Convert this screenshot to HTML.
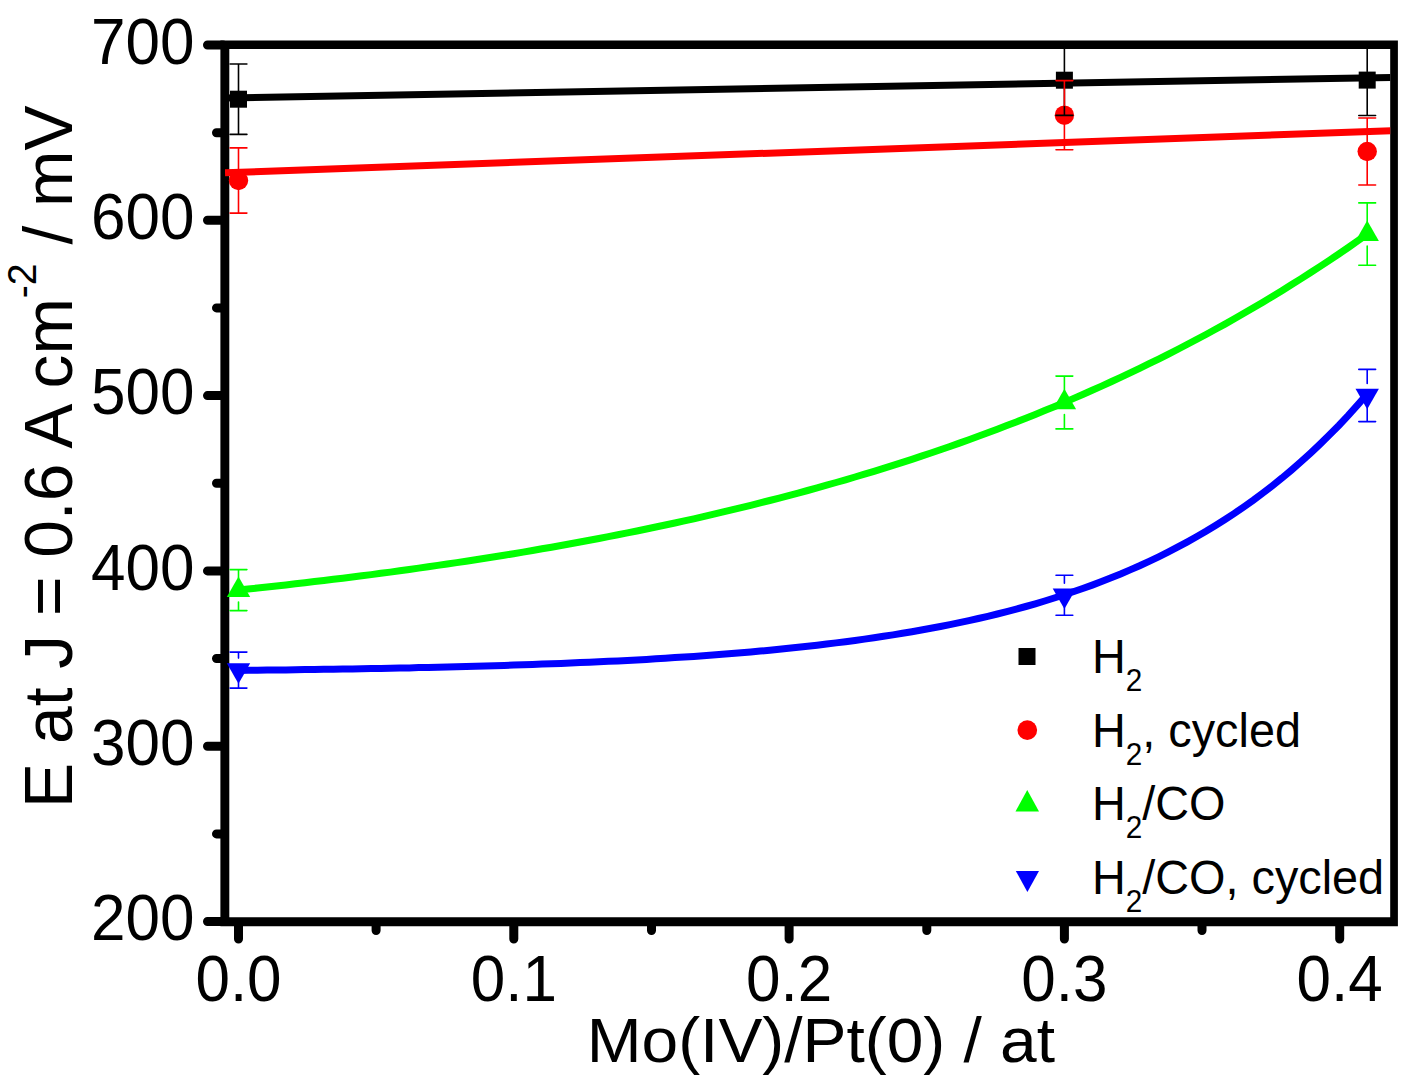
<!DOCTYPE html>
<html><head><meta charset="utf-8"><style>
html,body{margin:0;padding:0;background:#fff;width:1423px;height:1091px;overflow:hidden}
svg{display:block}
text{font-family:"Liberation Sans",sans-serif}
</style></head><body>
<svg width="1423" height="1091" viewBox="0 0 1423 1091">
<rect width="1423" height="1091" fill="#fff"/>
<defs><clipPath id="c"><rect x="225" y="45" width="1165.2" height="876.5"/></clipPath></defs>
<path d="M223,45.0H207.5M223,220.3H207.5M223,395.6H207.5M223,570.9H207.5M223,746.2H207.5M223,921.5H207.5M223,132.7H216.5M223,307.9H216.5M223,483.2H216.5M223,658.5H216.5M223,833.9H216.5M238.5,923.5V939M513.8,923.5V939M789.1,923.5V939M1064.4,923.5V939M1339.7,923.5V939M376.1,923.5V930.5M651.5,923.5V930.5M926.8,923.5V930.5M1202.0,923.5V930.5" stroke="#000" stroke-width="9" stroke-linecap="round" fill="none"/>
<path d="M220.4,40.4H1397.9V926.2H220.4Z M229.3,49.1V917.2H1390.2V49.1Z" fill="#000" fill-rule="evenodd"/>
<g clip-path="url(#c)">
<line x1="225" y1="98.0" x2="1394" y2="77.4" stroke="#000" stroke-width="7"/>
<line x1="225" y1="172.8" x2="1394" y2="130.6" stroke="#f00" stroke-width="7"/>
<polyline points="238.5,590.0 248.0,589.0 257.5,588.0 267.0,586.9 276.4,585.9 285.9,584.9 295.4,583.8 304.9,582.7 314.4,581.6 323.9,580.5 333.4,579.3 342.8,578.2 352.3,577.0 361.8,575.8 371.3,574.6 380.8,573.3 390.3,572.1 399.7,570.8 409.2,569.5 418.7,568.1 428.2,566.8 437.7,565.4 447.2,564.0 456.7,562.6 466.1,561.2 475.6,559.7 485.1,558.3 494.6,556.8 504.1,555.2 513.6,553.7 523.1,552.1 532.5,550.5 542.0,548.8 551.5,547.2 561.0,545.5 570.5,543.8 580.0,542.0 589.4,540.3 598.9,538.5 608.4,536.6 617.9,534.8 627.4,532.9 636.9,531.0 646.4,529.0 655.8,527.0 665.3,525.0 674.8,523.0 684.3,520.9 693.8,518.8 703.3,516.6 712.8,514.4 722.2,512.2 731.7,509.9 741.2,507.6 750.7,505.3 760.2,502.9 769.7,500.5 779.2,498.1 788.6,495.6 798.1,493.1 807.6,490.5 817.1,487.9 826.6,485.2 836.1,482.5 845.5,479.8 855.0,477.0 864.5,474.2 874.0,471.3 883.5,468.3 893.0,465.4 902.5,462.3 911.9,459.3 921.4,456.1 930.9,453.0 940.4,449.7 949.9,446.5 959.4,443.1 968.9,439.7 978.3,436.3 987.8,432.8 997.3,429.2 1006.8,425.6 1016.3,422.0 1025.8,418.2 1035.3,414.4 1044.7,410.6 1054.2,406.7 1063.7,402.7 1073.2,398.6 1082.7,394.5 1092.2,390.3 1101.6,386.1 1111.1,381.7 1120.6,377.4 1130.1,372.9 1139.6,368.4 1149.1,363.7 1158.6,359.1 1168.0,354.3 1177.5,349.5 1187.0,344.5 1196.5,339.5 1206.0,334.5 1215.5,329.3 1225.0,324.1 1234.4,318.7 1243.9,313.3 1253.4,307.8 1262.9,302.2 1272.4,296.5 1281.9,290.7 1291.3,284.8 1300.8,278.9 1310.3,272.8 1319.8,266.6 1329.3,260.3 1338.8,254.0 1348.3,247.5 1357.7,240.9 1367.2,234.2" stroke="#0f0" stroke-width="7" fill="none"/>
<polyline points="238.5,670.4 248.0,670.3 257.5,670.2 267.0,670.1 276.4,670.0 285.9,669.9 295.4,669.7 304.9,669.6 314.4,669.5 323.9,669.3 333.4,669.2 342.8,669.1 352.3,668.9 361.8,668.7 371.3,668.6 380.8,668.4 390.3,668.2 399.7,668.0 409.2,667.9 418.7,667.6 428.2,667.4 437.7,667.2 447.2,667.0 456.7,666.8 466.1,666.5 475.6,666.3 485.1,666.0 494.6,665.7 504.1,665.4 513.6,665.1 523.1,664.8 532.5,664.5 542.0,664.1 551.5,663.8 561.0,663.4 570.5,663.0 580.0,662.6 589.4,662.2 598.9,661.8 608.4,661.3 617.9,660.9 627.4,660.4 636.9,659.9 646.4,659.4 655.8,658.8 665.3,658.2 674.8,657.6 684.3,657.0 693.8,656.4 703.3,655.7 712.8,655.0 722.2,654.3 731.7,653.5 741.2,652.8 750.7,651.9 760.2,651.1 769.7,650.2 779.2,649.3 788.6,648.3 798.1,647.3 807.6,646.3 817.1,645.2 826.6,644.1 836.1,642.9 845.5,641.7 855.0,640.5 864.5,639.1 874.0,637.8 883.5,636.3 893.0,634.9 902.5,633.3 911.9,631.7 921.4,630.0 930.9,628.3 940.4,626.5 949.9,624.6 959.4,622.6 968.9,620.6 978.3,618.5 987.8,616.3 997.3,614.0 1006.8,611.6 1016.3,609.1 1025.8,606.5 1035.3,603.8 1044.7,601.0 1054.2,598.0 1063.7,595.0 1073.2,591.8 1082.7,588.5 1092.2,585.1 1101.6,581.5 1111.1,577.8 1120.6,574.0 1130.1,569.9 1139.6,565.8 1149.1,561.4 1158.6,556.9 1168.0,552.2 1177.5,547.2 1187.0,542.1 1196.5,536.8 1206.0,531.3 1215.5,525.5 1225.0,519.5 1234.4,513.3 1243.9,506.8 1253.4,500.1 1262.9,493.0 1272.4,485.7 1281.9,478.1 1291.3,470.2 1300.8,461.9 1310.3,453.3 1319.8,444.4 1329.3,435.1 1338.8,425.5 1348.3,415.4 1357.7,404.9 1367.2,394.0" stroke="#00f" stroke-width="7" fill="none"/>
<rect x="230.0" y="90.7" width="17" height="17" fill="#000"/>
<rect x="1055.9" y="71.7" width="17" height="17" fill="#000"/>
<rect x="1358.7" y="71.6" width="17" height="17" fill="#000"/>
<circle cx="238.5" cy="180.5" r="9.7" fill="#f00"/>
<circle cx="1064.4" cy="115.2" r="9.7" fill="#f00"/>
<circle cx="1367.2" cy="151.5" r="9.7" fill="#f00"/>
<path d="M238.5,576.4L250.2,596.9L226.8,596.9Z" fill="#0f0"/>
<path d="M1064.4,388.8L1076.1,409.3L1052.7,409.3Z" fill="#0f0"/>
<path d="M1367.2,220.4L1378.9,240.9L1355.5,240.9Z" fill="#0f0"/>
<path d="M238.5,683.8L250.2,663.3L226.8,663.3Z" fill="#00f"/>
<path d="M1064.4,608.9L1076.1,588.4L1052.7,588.4Z" fill="#00f"/>
<path d="M1367.2,409.2L1378.9,388.7L1355.5,388.7Z" fill="#00f"/>
<path d="M238.5,90.7V64.0M230.1,64.0H246.9M238.5,107.7V134.4M230.1,134.4H246.9" stroke="#000" stroke-width="1.6" stroke-linecap="round" fill="none"/>
<path d="M1064.4,71.7V45.0M1056.0,45.0H1072.8M1064.4,88.7V115.4M1056.0,115.4H1072.8" stroke="#000" stroke-width="1.6" stroke-linecap="round" fill="none"/>
<path d="M1367.2,71.6V44.7M1358.8,44.7H1375.6M1367.2,88.6V115.5M1358.8,115.5H1375.6" stroke="#000" stroke-width="1.6" stroke-linecap="round" fill="none"/>
<path d="M238.5,170.8V147.9M230.1,147.9H246.9M238.5,190.2V213.1M230.1,213.1H246.9" stroke="#f00" stroke-width="1.6" stroke-linecap="round" fill="none"/>
<path d="M1064.4,105.5V80.6M1056.0,80.6H1072.8M1064.4,124.9V149.8M1056.0,149.8H1072.8" stroke="#f00" stroke-width="1.6" stroke-linecap="round" fill="none"/>
<path d="M1367.2,141.8V118.0M1358.8,118.0H1375.6M1367.2,161.2V185.0M1358.8,185.0H1375.6" stroke="#f00" stroke-width="1.6" stroke-linecap="round" fill="none"/>
<path d="M238.5,578.1V569.6M230.1,569.6H246.9M238.5,602.1V610.6M230.1,610.6H246.9" stroke="#0f0" stroke-width="1.6" stroke-linecap="round" fill="none"/>
<path d="M1064.4,390.5V376.1M1056.0,376.1H1072.8M1064.4,414.5V428.9M1056.0,428.9H1072.8" stroke="#0f0" stroke-width="1.6" stroke-linecap="round" fill="none"/>
<path d="M1367.2,222.1V202.9M1358.8,202.9H1375.6M1367.2,246.1V265.3M1358.8,265.3H1375.6" stroke="#0f0" stroke-width="1.6" stroke-linecap="round" fill="none"/>
<path d="M238.5,658.1V652.1M230.1,652.1H246.9M238.5,682.1V688.1M230.1,688.1H246.9" stroke="#00f" stroke-width="1.6" stroke-linecap="round" fill="none"/>
<path d="M1064.4,583.2V575.2M1056.0,575.2H1072.8M1064.4,607.2V615.2M1056.0,615.2H1072.8" stroke="#00f" stroke-width="1.6" stroke-linecap="round" fill="none"/>
<path d="M1367.2,383.5V369.4M1358.8,369.4H1375.6M1367.2,407.5V421.6M1358.8,421.6H1375.6" stroke="#00f" stroke-width="1.6" stroke-linecap="round" fill="none"/>
</g>
<g font-family="Liberation Sans" font-size="62" fill="#000">
<text transform="translate(194.5,63.8) scale(1,1.05)" text-anchor="end">700</text>
<text transform="translate(194.5,239.1) scale(1,1.05)" text-anchor="end">600</text>
<text transform="translate(194.5,414.4) scale(1,1.05)" text-anchor="end">500</text>
<text transform="translate(194.5,589.7) scale(1,1.05)" text-anchor="end">400</text>
<text transform="translate(194.5,765.0) scale(1,1.05)" text-anchor="end">300</text>
<text transform="translate(194.5,940.3) scale(1,1.05)" text-anchor="end">200</text>
<text transform="translate(238.5,1000.8) scale(1,1.054)" text-anchor="middle">0.0</text>
<text transform="translate(513.8,1000.8) scale(1,1.054)" text-anchor="middle">0.1</text>
<text transform="translate(789.1,1000.8) scale(1,1.054)" text-anchor="middle">0.2</text>
<text transform="translate(1064.4,1000.8) scale(1,1.054)" text-anchor="middle">0.3</text>
<text transform="translate(1339.7,1000.8) scale(1,1.054)" text-anchor="middle">0.4</text>
</g>
<text transform="translate(586.7,1062) scale(1.029,0.982)" font-family="Liberation Sans" font-size="64">Mo(IV)/Pt(0) / at</text>
<text transform="translate(71.6,807.9) rotate(-90) scale(0.981,1)" font-family="Liberation Sans" font-size="69">E at J = 0.6 A cm<tspan font-size="40" dy="-36">-2</tspan><tspan dy="36"> / mV</tspan></text>
<rect x="1018.5" y="648.0" width="17" height="17" fill="#000"/>
<circle cx="1027.3" cy="730.1" r="9.85" fill="#f00"/>
<path d="M1027.25,790.1L1039,811.4L1015.5,811.4Z" fill="#0f0"/>
<path d="M1027.4,892L1039,871L1015.8,871Z" fill="#00f"/>
<g font-family="Liberation Sans" font-size="48">
<text transform="translate(1092,672.7) scale(0.975,1)">H<tspan font-size="30.5" dy="18">2</tspan></text>
<text transform="translate(1092,746.8) scale(0.975,1)">H<tspan font-size="30.5" dy="18">2</tspan><tspan dy="-18">, cycled</tspan></text>
<text transform="translate(1092,820.3) scale(0.975,1)">H<tspan font-size="30.5" dy="18">2</tspan><tspan dy="-18">/CO</tspan></text>
<text transform="translate(1092,894.0) scale(0.975,1)">H<tspan font-size="30.5" dy="18">2</tspan><tspan dy="-18">/CO, cycled</tspan></text>
</g>
</svg>
</body></html>
